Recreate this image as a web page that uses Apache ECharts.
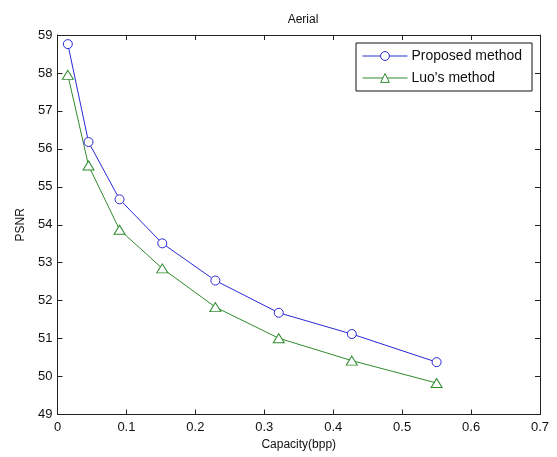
<!DOCTYPE html>
<html>
<head>
<meta charset="utf-8">
<script src="https://cdn.jsdelivr.net/npm/echarts@6/dist/echarts.min.js"></script>
<style>
  html, body { margin: 0; padding: 0; background: #fff; }
  #main { width: 557px; height: 457px; }
</style>
</head>
<body>
<div id="main"></div>
<script>
// capacity (bpp) at each measured point
var capacity = [0.015, 0.045, 0.09, 0.152, 0.229, 0.321, 0.427, 0.55];
var proposed = [58.76, 56.18, 54.67, 53.51, 52.53, 51.68, 51.12, 50.38];
var luo = [57.95, 55.56, 53.87, 52.85, 51.83, 51.01, 50.42, 49.83];

function pairs(xs, ys) {
  return xs.map(function (x, i) { return [x, ys[i]]; });
}

var font = 'Liberation Sans, Arial, sans-serif';
var chartDom = document.getElementById('main');
var myChart = echarts.init(chartDom);

var tickStyle = { show: true, inside: true, length: 5, lineStyle: { color: '#222' } };
var lineStyle = { show: true, onZero: false, lineStyle: { color: '#222', width: 1 } };

var option = {
  animation: false,
  backgroundColor: '#fff',
  title: {
    text: 'Aerial',
    left: 298,
    top: 9,
    textAlign: 'center',
    textStyle: { fontFamily: font, fontSize: 12, fontWeight: 'normal', color: '#111' }
  },
  legend: {
    orient: 'vertical',
    left: 356,
    top: 43,
    width: 177,
    padding: [6, 10, 6, 6],
    itemGap: 8,
    itemWidth: 45,
    itemHeight: 11,
    borderColor: '#111',
    borderWidth: 1,
    backgroundColor: '#fff',
    lineStyle: { width: 1 },
    itemStyle: { color: '#fff', borderWidth: 1 },
    textStyle: { fontFamily: font, fontSize: 14, color: '#111', padding: [0, 0, 0, -1] },
    data: ['Proposed method', "Luo's method"]
  },
  grid: { left: 57.5, right: 17, top: 35, bottom: 42.5 },
  xAxis: [
    {
      type: 'value', min: 0, max: 0.7, interval: 0.1,
      name: 'Capacity(bpp)', nameLocation: 'middle', nameGap: 22,
      nameTextStyle: { fontFamily: font, fontSize: 12, color: '#111' },
      axisLine: lineStyle, axisTick: tickStyle, splitLine: { show: false },
      axisLabel: { fontFamily: font, fontSize: 13, color: '#111', margin: 6,
        formatter: function (v) { return +v.toFixed(1) + ''; } }
    },
    {
      type: 'value', position: 'top', min: 0, max: 0.7, interval: 0.1,
      axisLine: lineStyle, axisTick: tickStyle, splitLine: { show: false },
      axisLabel: { show: false }
    }
  ],
  yAxis: [
    {
      type: 'value', min: 49, max: 59, interval: 1,
      name: 'PSNR', nameLocation: 'middle', nameGap: 26,
      nameTextStyle: { fontFamily: font, fontSize: 12, color: '#111' },
      axisLine: lineStyle, axisTick: tickStyle, splitLine: { show: false },
      axisLabel: { fontFamily: font, fontSize: 13, color: '#111', margin: 5 }
    },
    {
      type: 'value', position: 'right', min: 49, max: 59, interval: 1,
      axisLine: lineStyle, axisTick: tickStyle, splitLine: { show: false },
      axisLabel: { show: false }
    }
  ],
  series: [
    {
      name: 'Proposed method',
      type: 'line',
      data: pairs(capacity, proposed),
      symbol: 'circle',
      symbolSize: 9,
      showAllSymbol: true,
      color: '#2a2ad6',
      lineStyle: { width: 1, color: '#2a2ad6' },
      itemStyle: { color: '#fff', borderColor: '#2a2ad6', borderWidth: 1 }
    },
    {
      name: "Luo's method",
      type: 'line',
      data: pairs(capacity, luo),
      symbol: 'triangle',
      symbolSize: [11, 9],
      showAllSymbol: true,
      color: '#2e8b2e',
      lineStyle: { width: 1, color: '#2e8b2e' },
      itemStyle: { color: '#fff', borderColor: '#2e8b2e', borderWidth: 1 }
    }
  ]
};

option && myChart.setOption(option);
</script>
</body>
</html>
